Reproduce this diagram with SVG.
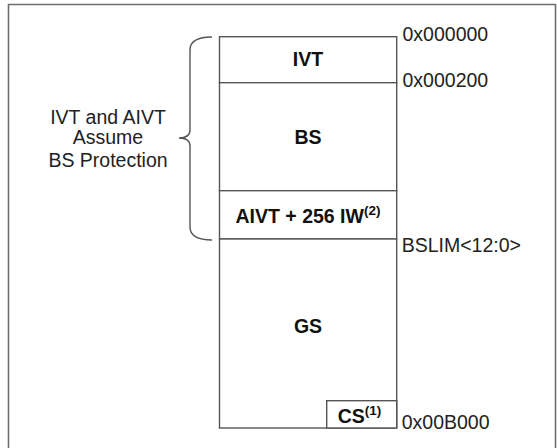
<svg xmlns="http://www.w3.org/2000/svg" width="557" height="448" viewBox="0 0 557 448">
<style>
.frame{fill:none;stroke:#6e6e6e;stroke-width:1.6}
.box{fill:#fff;stroke:#555;stroke-width:1.4}
.brace{fill:none;stroke:#555;stroke-width:1.4}
.lbl{font-family:"Liberation Sans",Arial,sans-serif;font-size:19.5px;font-weight:bold;fill:#111;text-anchor:middle}
.addr{font-family:"Liberation Sans",Arial,sans-serif;font-size:19.5px;fill:#222}
.note{font-family:"Liberation Sans",Arial,sans-serif;font-size:19.5px;fill:#222;text-anchor:middle}
.sup{font-size:13.5px}
</style>
<rect width="557" height="448" fill="#fff"/>
<path class="frame" d="M8.5,452 V4.5 H555.5 V452"/>
<g id="connectors">
<path class="brace" d="M212,37 Q190,37 190,50 V130 Q190,138 179,138 Q190,138 190,146 V227 Q190,240 212,240"/>
</g>
<g id="IVT">
<rect class="box" x="219.5" y="36.7" width="177.2" height="46"/>
<text class="lbl" x="308" y="65.7">IVT</text>
</g>
<g id="BS">
<rect class="box" x="219.5" y="82.7" width="177.2" height="108"/>
<text class="lbl" x="308" y="144">BS</text>
</g>
<g id="AIVT">
<rect class="box" x="219.5" y="190.7" width="177.2" height="48.3"/>
<text class="lbl" x="308" y="223">AIVT + 256 IW<tspan class="sup" dy="-8">(2)</tspan></text>
</g>
<g id="GS">
<rect class="box" x="219.5" y="239" width="177.2" height="189"/>
<text class="lbl" x="308" y="332.5">GS</text>
</g>
<g id="CS">
<rect class="box" x="326.7" y="400.7" width="70" height="27.3"/>
<text class="lbl" x="359.5" y="423.3">CS<tspan class="sup" dy="-8">(1)</tspan></text>
</g>
<g id="addresses">
<text class="addr" x="402.5" y="40.7">0x000000</text>
<text class="addr" x="402.5" y="86.7">0x000200</text>
<text class="addr" x="401.7" y="252">BSLIM&lt;12:0&gt;</text>
<text class="addr" x="401.7" y="429.3">0x00B000</text>
</g>
<g id="note">
<text class="note" x="108" y="124">IVT and AIVT</text>
<text class="note" x="108" y="144">Assume</text>
<text class="note" x="108" y="167">BS Protection</text>
</g>
</svg>
